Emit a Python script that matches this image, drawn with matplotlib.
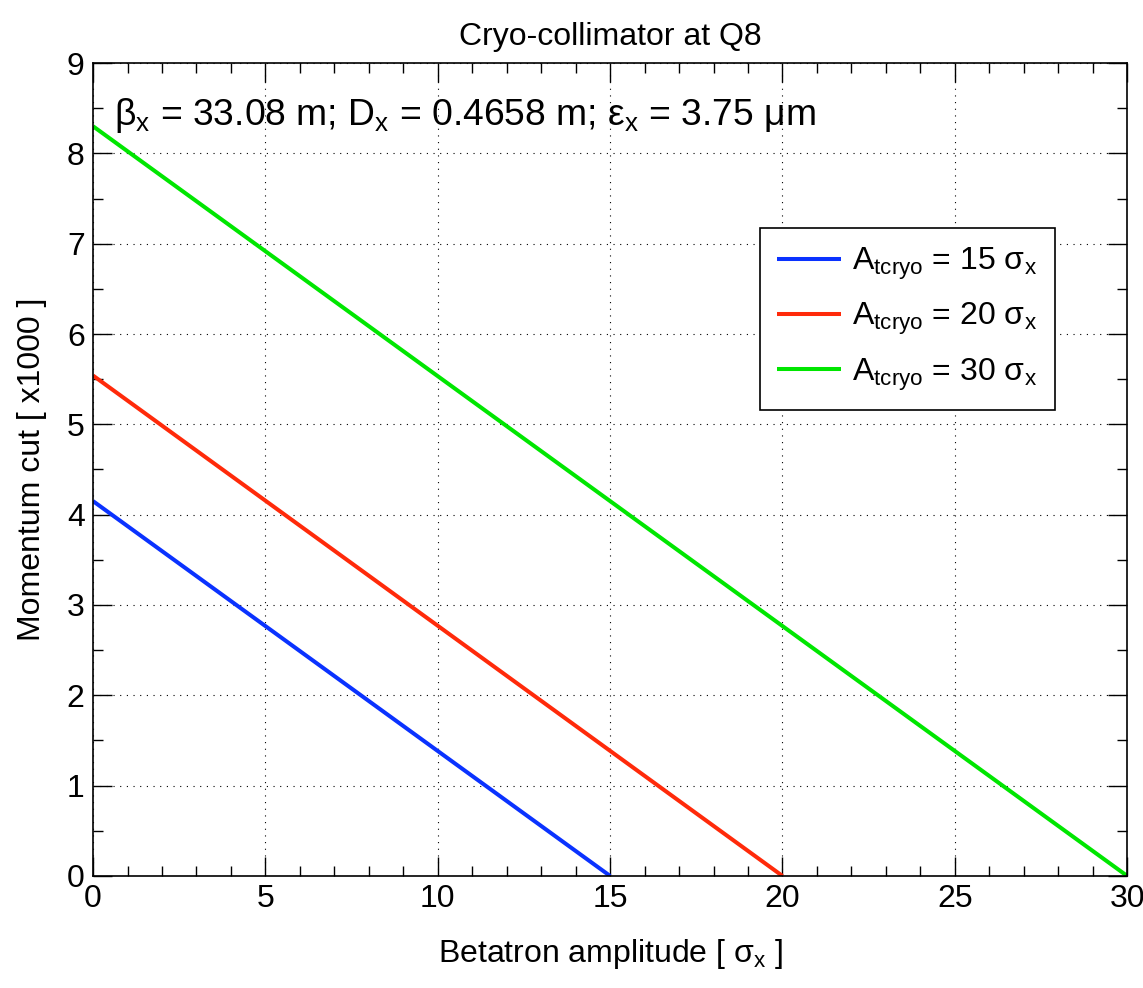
import numpy as np
import matplotlib
matplotlib.use('Agg')
import matplotlib.pyplot as plt
from matplotlib.ticker import MultipleLocator

# data: each line runs from (0, y0) down to (A, 0)
apertures = [15, 20, 30]
cut_at_zero = [4.15, 5.54, 8.30]
colors = ['#0a32ff', '#ff2a0a', '#00e600']
labels = [r'A$_{\mathrm{tcryo}}$ = %d $\mathrm{\sigma}_{\mathrm{x}}$' % a for a in apertures]

x_ticks = [0, 5, 10, 15, 20, 25, 30]
y_ticks = list(range(0, 10))

plt.rcParams['font.family'] = ['Liberation Sans', 'DejaVu Sans']
plt.rcParams['mathtext.fontset'] = 'custom'
plt.rcParams['mathtext.rm'] = 'Liberation Sans'
plt.rcParams['mathtext.it'] = 'Liberation Sans'
plt.rcParams['mathtext.bf'] = 'Liberation Sans:bold'

fig = plt.figure(figsize=(11.43, 9.88), dpi=100)
ax = fig.add_axes([0.0814, 0.1134, 0.9048, 0.8228])

for a, y0, c, lab in zip(apertures, cut_at_zero, colors, labels):
    ax.plot([0, a], [y0, 0], color=c, lw=2.9, label=lab, solid_capstyle='butt')

ax.set_xlim(0, 30)
ax.set_ylim(0, 9)
ax.set_xticks(x_ticks)
ax.set_yticks(y_ticks)
ax.xaxis.set_minor_locator(MultipleLocator(1))
ax.yaxis.set_minor_locator(MultipleLocator(0.5))
ax.tick_params(which='both', direction='in', top=True, right=True, labelsize=23)
ax.tick_params(axis='x', pad=6)
ax.tick_params(axis='y', pad=6)
ax.tick_params(which='major', length=14, width=1)
ax.tick_params(which='minor', length=7, width=1)
ax.grid(True, which='major', linestyle=(0, (1, 5)), color='black', lw=0.8)
for s in ax.spines.values():
    s.set_linewidth(1.2)

ax.set_title('Cryo-collimator at Q8', fontsize=23, pad=13)
ax.set_xlabel(r'Betatron amplitude [ $\mathrm{\sigma}_{\mathrm{x}}$ ]', fontsize=23, labelpad=16)
ax.set_ylabel('Momentum cut [ x1000 ]', fontsize=23, labelpad=14)

ax.text(0.020, 0.935,
        r'$\mathrm{\beta}_{\mathrm{x}}$ = 33.08 m; D$_{\mathrm{x}}$ = 0.4658 m; $\mathrm{\varepsilon}_{\mathrm{x}}$ = 3.75 $\mathrm{\mu}$m',
        transform=ax.transAxes, fontsize=26.8, va='center', ha='left')

leg = ax.legend(loc='upper right', bbox_to_anchor=(0.930, 0.797), fontsize=23,
                fancybox=False, edgecolor='black', framealpha=1,
                handlelength=2.0, borderpad=0.55, labelspacing=0.6, handletextpad=0.35,
                borderaxespad=0)
leg.get_frame().set_linewidth(1.2)

fig.savefig('out.png', dpi=100)
